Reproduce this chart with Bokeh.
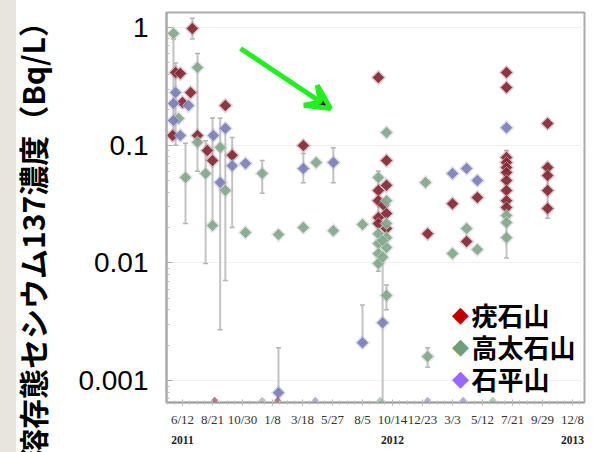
import numpy as np
import pandas as pd
from bokeh.plotting import figure
from bokeh.models import (FixedTicker, CustomJSTickFormatter, LinearAxis, Label,
                          Arrow, VeeHead, Range1d)
from bokeh.embed import file_html
from bokeh.resources import INLINE

origin = pd.Timestamp("2011-06-12")

tick_dates = ["2011-06-12", "2011-08-21", "2011-10-30", "2012-01-08", "2012-03-18",
              "2012-05-27", "2012-08-05", "2012-10-14", "2012-12-23", "2013-03-03",
              "2013-05-12", "2013-07-21", "2013-09-29", "2013-12-08"]
tick_labels = ["6/12", "8/21", "10/30", "1/8", "3/18", "5/27", "8/5", "10/14",
               "12/23", "3/3", "5/12", "7/21", "9/29", "12/8"]
year_dates = ["2011-06-12", "2012-10-14", "2013-12-08"]
year_labels = ["2011", "2012", "2013"]
y_ticks = [0.001, 0.01, 0.1, 1]
y_tick_labels = ["0.001", "0.01", "0.1", "1"]
y_title = "溶存態セシウム137濃度（Bq/L）"

site_names = ["疣石山", "高太石山", "石平山"]

iboishi_dates = ["2011-07-05", "2011-05-27", "2011-06-07", "2011-07-01", "2011-06-12",
                 "2011-09-20", "2011-05-20", "2011-07-17", "2011-08-09", "2011-08-21",
                 "2011-10-06", "2012-03-20", "2012-09-11", "2012-09-30", "2012-09-30",
                 "2012-09-11", "2012-09-11", "2012-09-23", "2012-09-30", "2012-09-11",
                 "2012-09-11", "2012-09-30", "2013-01-04", "2013-03-03", "2013-04-30",
                 "2013-04-05", "2013-07-07", "2013-07-07", "2013-07-07", "2013-07-07",
                 "2013-07-07", "2013-07-07", "2013-07-07", "2013-07-07", "2013-07-07",
                 "2013-07-07", "2013-10-11", "2013-10-11", "2013-10-11", "2013-10-11",
                 "2013-10-11"]
iboishi_vals = [0.98, 0.415, 0.407, 0.28, 0.231,
                0.217, 0.121, 0.121, 0.090, 0.074,
                0.082, 0.0995, 0.376, 0.074, 0.0456,
                0.0413, 0.0338, 0.031, 0.0263, 0.0243,
                0.0216, 0.0196, 0.0177, 0.0318, 0.036,
                0.0152, 0.415, 0.309, 0.0787, 0.0713,
                0.0646, 0.0586, 0.0502, 0.0413, 0.0338,
                0.0296, 0.153, 0.0646, 0.0553, 0.0413,
                0.029]

takata_dates = ["2011-05-22", "2011-07-17", "2011-06-03", "2011-07-17", "2011-09-08",
                "2011-06-19", "2011-08-05", "2011-09-20", "2011-08-21", "2011-11-06",
                "2012-01-22", "2011-12-15", "2012-04-19", "2012-03-20", "2012-05-29",
                "2012-08-05", "2012-09-30", "2012-09-11", "2012-09-30", "2012-09-30",
                "2012-09-11", "2012-09-30", "2012-09-11", "2012-09-30", "2012-09-11",
                "2012-09-11", "2012-09-21", "2012-09-21", "2012-09-30", "2012-12-30",
                "2013-04-05", "2013-03-03", "2013-04-30", "2013-07-07", "2013-07-07",
                "2013-07-07", "2013-01-04"]
takata_vals = [0.889, 0.457, 0.169, 0.106, 0.0958,
               0.0532, 0.0575, 0.0413, 0.0208, 0.0181,
               0.0174, 0.0575, 0.0713, 0.020, 0.0188,
               0.0212, 0.128, 0.0532, 0.0338, 0.0216,
               0.0177, 0.0164, 0.0146, 0.0135, 0.0120,
               0.0099, 0.0155, 0.0112, 0.0053, 0.0483,
               0.0196, 0.012, 0.013, 0.0253, 0.022,
               0.0164, 0.0016]

ishidaira_dates = ["2011-05-27", "2011-06-26", "2011-05-22", "2011-05-22", "2011-06-07",
                   "2011-08-23", "2011-09-20", "2011-10-06", "2011-11-06", "2011-09-08",
                   "2012-03-20", "2012-05-29", "2012-08-05", "2012-09-21", "2012-01-22",
                   "2013-03-03", "2013-04-05", "2013-04-30", "2013-07-07"]
ishidaira_vals = [0.28, 0.217, 0.162, 0.226, 0.121,
                  0.121, 0.139, 0.067, 0.070, 0.0483,
                  0.0634, 0.0713, 0.0021, 0.0031, 0.00079,
                  0.0575, 0.0634, 0.0502, 0.141]

err_dates = ["2011-05-22", "2011-05-27", "2011-06-19", "2011-07-05", "2011-07-17",
             "2011-08-05", "2011-08-21", "2011-09-08", "2011-09-20", "2011-10-06",
             "2011-12-15", "2012-01-22", "2012-03-20", "2012-05-29", "2012-08-05",
             "2012-09-11", "2012-09-21", "2012-09-30", "2013-01-04", "2013-07-07",
             "2013-10-11"]
err_lo = [0.12, 0.1, 0.0216, 0.8, 0.06, 0.0099, 0.0208, 0.0027, 0.0071, 0.02,
          0.039, 0.00079, 0.048, 0.048, 0.0021, 0.0085, 0.00066, 0.004, 0.0013, 0.011,
          0.024]
err_hi = [0.8, 0.5, 0.104, 1.2, 0.6, 0.109, 0.17, 0.17, 0.14, 0.116,
          0.074, 0.0019, 0.085, 0.095, 0.0044, 0.06, 0.0105, 0.0065, 0.0019, 0.09,
          0.07]

nd_dates = ["2011-08-26", "2011-12-15", "2012-01-20", "2012-04-17", "2012-09-15",
            "2013-01-04", "2013-03-28", "2013-06-05"]
nd_site = [0, 1, 0, 2, 1, 2, 2, 1]
nd_level = 0.00068

point_colors = ["#862a36", "#86a88e", "#7f80b8"]
legend_colors = ["#c00000", "#6f9f78", "#9966ff"]


def days(ds):
    return [int(v) for v in (pd.to_datetime(ds) - origin).days]


LOOKUP = "const i = tv.indexOf(tick); return i >= 0 ? lab[i] : '';"

p = figure(width=593, height=452, y_axis_type="log",
           x_range=Range1d(-37.3, 938), y_range=Range1d(0.000652, 1.341),
           output_backend="svg", toolbar_location=None,
           min_border_left=166, min_border_right=9, min_border_top=12,
           min_border_bottom=50, background_fill_color="white",
           border_fill_color=None)
# slide background: narrow beige strip on the far left, white elsewhere
p.styles = {"background": "linear-gradient(90deg, #e8e6dc 0px, #e8e6dc 16px, #ffffff 16px)"}
p.outline_line_color = "#aaaaaa"
p.outline_line_width = 2
p.xgrid.visible = False
p.ygrid.grid_line_color = "#f0f0f0"

# x axis (dates)
xa = p.xaxis[0]
xa.ticker = FixedTicker(ticks=days(tick_dates),
                        minor_ticks=[float(v) for v in np.arange(-35, 938, 17.5)])
xa.formatter = CustomJSTickFormatter(args=dict(tv=days(tick_dates), lab=tick_labels),
                                     code=LOOKUP)
xa.major_label_text_font = "Liberation Serif"
xa.major_label_text_font_size = "13px"
xa.major_label_text_color = "#333333"
xa.major_label_standoff = 6
xa.axis_line_color = "#999999"
xa.axis_line_width = 1.5
xa.major_tick_in = 3
xa.major_tick_out = 3
xa.major_tick_line_color = "#aaaaaa"
xa.minor_tick_in = 2
xa.minor_tick_out = 2
xa.minor_tick_line_color = "#bbbbbb"

yr_axis = LinearAxis(ticker=FixedTicker(ticks=days(year_dates)),
                     formatter=CustomJSTickFormatter(
                         args=dict(tv=days(year_dates), lab=year_labels), code=LOOKUP),
                     axis_line_color=None, major_tick_line_color=None,
                     minor_tick_line_color=None,
                     major_label_text_font="Liberation Serif",
                     major_label_text_font_style="bold",
                     major_label_text_font_size="11.5px",
                     major_label_text_color="#222222",
                     major_label_standoff=0)
p.add_layout(yr_axis, "below")

# y axis
ya = p.yaxis[0]
minor = [k * 10.0 ** e for e in range(-4, 1) for k in range(2, 10)]
ya.ticker = FixedTicker(ticks=y_ticks, minor_ticks=minor)
ya.formatter = CustomJSTickFormatter(
    args=dict(tv=y_ticks, lab=y_tick_labels),
    code="let b = 0; for (let i = 0; i < tv.length; i++) { if (Math.abs(Math.log10(tv[i]) - Math.log10(tick)) < 1e-6) b = i; } return lab[b];")
ya.major_label_text_font = "Liberation Sans"
ya.major_label_text_font_size = "28px"
ya.major_label_text_color = "black"
ya.major_label_standoff = 18
ya.axis_line_color = "#aaaaaa"
ya.axis_line_width = 2
ya.major_tick_in = 6
ya.major_tick_out = 0
ya.major_tick_line_color = "#aaaaaa"
ya.minor_tick_in = 3
ya.minor_tick_out = 0
ya.minor_tick_line_color = "#bbbbbb"
# trailing wide spaces push the visible title a little below the frame centre
ya.axis_label = y_title + "\u3000\u3000\u2009"
ya.axis_label_text_font = "Noto Sans CJK JP"
ya.axis_label_text_font_style = "bold"
ya.axis_label_text_font_size = "30px"
ya.axis_label_text_color = "black"
ya.axis_label_standoff = 21

# error bars
ex = days(err_dates)
p.segment(x0=ex, y0=err_lo, x1=ex, y1=err_hi, line_color="#b4b4b4",
          line_width=2, line_alpha=0.8)
p.scatter(x=ex + ex, y=err_lo + err_hi, marker="dash", size=5,
          line_color="#b4b4b4", line_width=1.5)

# points
series = [(iboishi_dates, iboishi_vals), (takata_dates, takata_vals),
          (ishidaira_dates, ishidaira_vals)]
for (ds, vs), c in zip(series, point_colors):
    xs = days(ds)
    p.scatter(x=xs, y=vs, marker="square", angle=np.pi / 4, size=11,
              fill_color=c, fill_alpha=0.25, line_color=None)
    p.scatter(x=xs, y=vs, marker="square", angle=np.pi / 4, size=8.5,
              fill_color=c, fill_alpha=0.92, line_color="white", line_alpha=0.5,
              line_width=0.8)

nx = days(nd_dates)
p.scatter(x=nx, y=[nd_level] * len(nx), marker="square", angle=np.pi / 4, size=5,
          fill_color=[point_colors[s] for s in nd_site], fill_alpha=0.6,
          line_color=None)

# legend
for i, (name, c) in enumerate(zip(site_names, legend_colors)):
    yy = 88 - 32 * i
    p.add_layout(Label(x=294, y=yy, x_units="screen", y_units="screen",
                       text="◆", text_font="DejaVu Sans", text_font_size="22px",
                       text_color=c, text_align="center", text_baseline="middle"))
    p.add_layout(Label(x=305, y=yy, x_units="screen", y_units="screen",
                       text=name, text_font="Noto Sans CJK JP",
                       text_font_style="bold", text_font_size="26px",
                       text_color="black", text_align="left",
                       text_baseline="middle"))

# green arrow
p.add_layout(Arrow(x_start=74, y_start=354, x_end=164, y_end=294,
                   start_units="screen", end_units="screen",
                   line_color="#22ee22", line_width=5,
                   end=VeeHead(size=24, line_color="#22ee22", line_width=5)))

open("out.html", "w").write(file_html(p, INLINE))
